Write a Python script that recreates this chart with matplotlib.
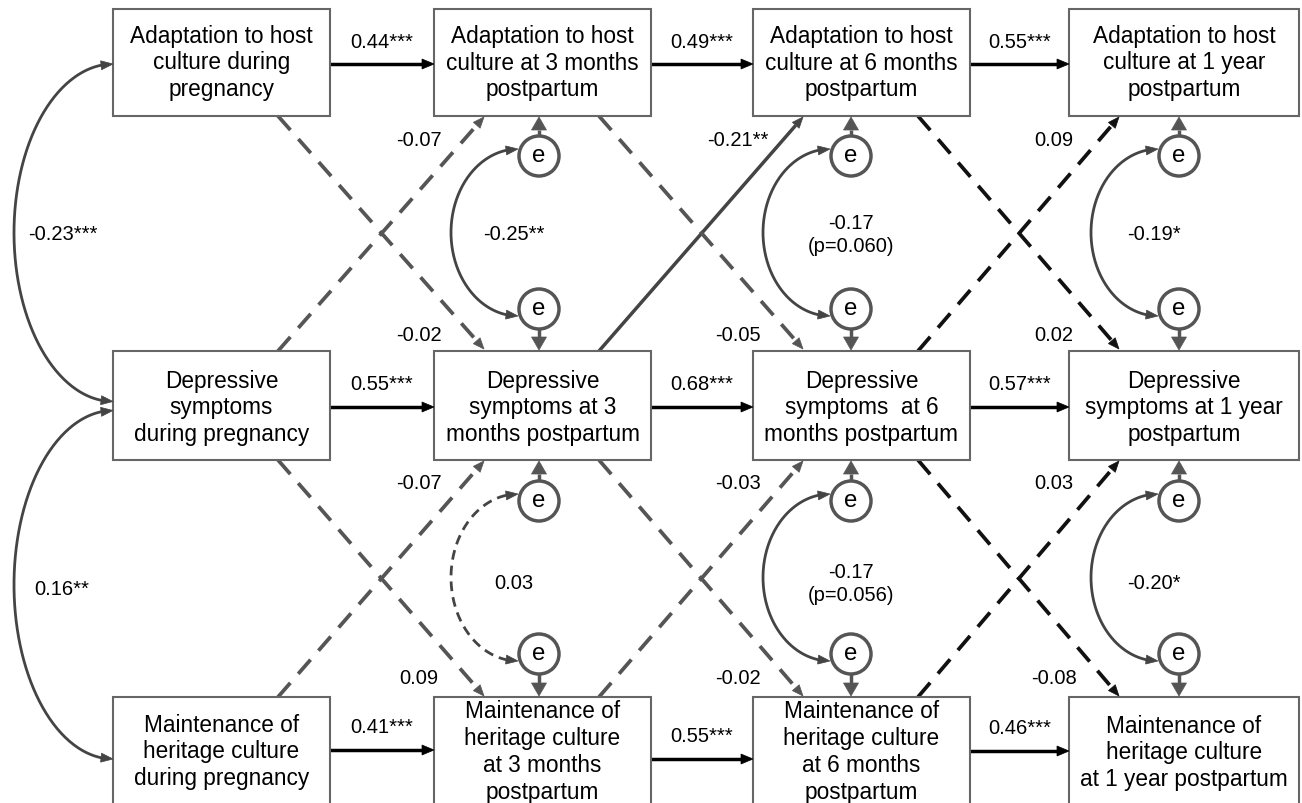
import matplotlib.pyplot as plt
from matplotlib.patches import Rectangle, Circle, Polygon
import numpy as np

plt.rcParams['font.family'] = ['Liberation Sans', 'DejaVu Sans']

# box texts, one list per construct, one entry per wave
host_text = ["Adaptation to host\nculture during\npregnancy",
             "Adaptation to host\nculture at 3 months\npostpartum",
             "Adaptation to host\nculture at 6 months\npostpartum",
             "Adaptation to host\nculture at 1 year\npostpartum"]
dep_text = ["Depressive\nsymptoms\nduring pregnancy",
            "Depressive\nsymptoms at 3\nmonths postpartum",
            "Depressive\nsymptoms  at 6\nmonths postpartum",
            "Depressive\nsymptoms at 1 year\npostpartum"]
her_text = ["Maintenance of\nheritage culture\nduring pregnancy",
            "Maintenance of\nheritage culture\nat 3 months\npostpartum",
            "Maintenance of\nheritage culture\nat 6 months\npostpartum",
            "Maintenance of\nheritage culture\nat 1 year postpartum"]

# autoregressive paths (wave t -> t+1)
host_auto = ["0.44***", "0.49***", "0.55***"]
dep_auto = ["0.55***", "0.68***", "0.57***"]
her_auto = ["0.41***", "0.55***", "0.46***"]

# cross-lagged paths (wave t -> t+1)
dep_to_host = ["-0.07", "-0.21**", "0.09"]
host_to_dep = ["-0.02", "-0.05", "0.02"]
her_to_dep = ["-0.07", "-0.03", "0.03"]
dep_to_her = ["0.09", "-0.02", "-0.08"]

# residual covariances, waves 2-4
cov_host_dep = ["-0.25**", "-0.17\n(p=0.060)", "-0.19*"]
cov_dep_her = ["0.03", "-0.17\n(p=0.056)", "-0.20*"]

# baseline correlations
base_host_dep = "-0.23***"
base_dep_her = "0.16**"

# ---- layout (pixel units, y downwards) ----
box_x = [113, 434, 753, 1069]
box_w = [217, 217, 217, 230]
row_y = [10, 352, 698]
row_h = [107, 109, 125]
text_y = [[63] * 4, [408] * 4, [752, 752, 752, 753]]
arrow_y = [[65] * 3, [408] * 3, [751, 760, 752]]
e_x = [539, 851, 1179]
e_y = [157, 310, 502, 655]
e_r = 20
diag_col = ['#555555', '#555555', '#111111']

FS_BOX = 16.3
FS_LAB = 14.5


def head(ax, tip, d, color, L, W):
    d = np.asarray(d, float)
    d = d / np.hypot(*d)
    n = np.array([-d[1], d[0]])
    tip = np.asarray(tip, float)
    base = tip - d * L
    ax.add_patch(Polygon([tip, base + n * W / 2, base - n * W / 2],
                         closed=True, fc=color, ec=color, lw=0.5, zorder=4))
    return base


def arrow(ax, p0, p1, color, lw, ls='-', L=11, W=9):
    d = np.array(p1, float) - np.array(p0, float)
    base = head(ax, p1, d, color, L, W)
    ax.plot([p0[0], base[0]], [p0[1], base[1]], color=color, lw=lw, ls=ls,
            solid_capstyle='butt', zorder=2)


def arc(ax, cx, y0, y1, a, color, lw, ls='-', L=12, W=9):
    t = np.linspace(0, np.pi, 200)
    cy = (y0 + y1) / 2
    b = (y1 - y0) / 2
    x = cx - a * np.sin(t)
    y = cy - b * np.cos(t)
    pts = np.column_stack([x, y])
    d0 = np.hypot(x - x[0], y - y[0])
    d1 = np.hypot(x - x[-1], y - y[-1])
    keep = (d0 > L * 0.9) & (d1 > L * 0.9)
    ax.plot(x[keep], y[keep], color=color, lw=lw, ls=ls, zorder=2)
    i0 = np.argmax(d0 > L)
    i1 = len(x) - 1 - np.argmax(d1[::-1] > L)
    head(ax, pts[0], pts[0] - pts[i0], color, L, W)
    head(ax, pts[-1], pts[-1] - pts[i1], color, L, W)


fig = plt.figure(figsize=(13.02, 8.04), dpi=100)
ax = fig.add_axes([0, 0, 1, 1])
ax.set_xlim(0, 1302)
ax.set_ylim(804, 0)
ax.axis('off')

# boxes
for r, texts in enumerate([host_text, dep_text, her_text]):
    for c, s in enumerate(texts):
        ax.add_patch(Rectangle((box_x[c], row_y[r]), box_w[c], row_h[r],
                               fc='white', ec='#666666', lw=1.5, zorder=3))
        ax.text(box_x[c] + box_w[c] / 2, text_y[r][c], s, ha='center',
                va='center', fontsize=FS_BOX, linespacing=1.21, zorder=5)

# autoregressive arrows
for r, labs in enumerate([host_auto, dep_auto, her_auto]):
    for c, lab in enumerate(labs):
        x0 = box_x[c] + box_w[c]
        x1 = box_x[c + 1]
        y = arrow_y[r][c]
        arrow(ax, (x0, y), (x1, y), 'black', 2.5, L=12, W=10)
        ax.text((x0 + x1) / 2, y - 23, lab, ha='center', va='center',
                fontsize=FS_LAB)

# cross-lagged arrows
top_b = row_y[0] + row_h[0]
mid_t = row_y[1]
mid_b = row_y[1] + row_h[1]
bot_t = row_y[2]
for c in range(3):
    xs = box_x[c] + 165
    xe = box_x[c + 1] + 50
    lx = box_x[c + 1] - 15
    col = diag_col[c]
    paths = [((xs, mid_t), (xe, top_b + 1), dep_to_host[c], 140),
             ((xs, top_b), (xe, mid_t - 2), host_to_dep[c], 336),
             ((xs, bot_t), (xe, mid_b + 1), her_to_dep[c], 484),
             ((xs, mid_b), (xe, bot_t - 1), dep_to_her[c], 679)]
    for p0, p1, lab, ly in paths:
        sig = '*' in lab
        if sig:
            arrow(ax, p0, p1, '#444444', 2.5, '-')
        else:
            arrow(ax, p0, p1, col, 2.7, (0, (5, 3.2)))
        ax.text(lx, ly, lab, ha='center', va='center', fontsize=FS_LAB)

# residuals
for c in range(3):
    for k, ey in enumerate(e_y):
        ax.add_patch(Circle((e_x[c], ey), e_r, fc='white', ec='#555555',
                            lw=2.5, zorder=3))
        ax.text(e_x[c], ey - 1, 'e', ha='center', va='center',
                fontsize=FS_BOX + 1, zorder=5)
    # e -> box
    arrow(ax, (e_x[c], e_y[0] - e_r), (e_x[c], top_b + 1), '#555555', 2.5,
          L=13, W=15)
    arrow(ax, (e_x[c], e_y[1] + e_r), (e_x[c], mid_t - 1), '#555555', 2.5,
          L=13, W=15)
    arrow(ax, (e_x[c], e_y[2] - e_r), (e_x[c], mid_b + 1), '#555555', 2.5,
          L=13, W=15)
    arrow(ax, (e_x[c], e_y[3] + e_r), (e_x[c], bot_t - 1), '#555555', 2.5,
          L=13, W=15)

# residual covariances
for c in range(3):
    for lab, ya, yb, ly in [(cov_host_dep[c], e_y[0], e_y[1], 235),
                            (cov_dep_her[c], e_y[2], e_y[3], 584)]:
        solid = ('*' in lab) or ('p=' in lab)
        arc(ax, e_x[c] - 21, ya - 7, yb + 7, 67, '#444444', 2,
            '-' if solid else (0, (3.5, 2.2)))
        lx = e_x[c] if '\n' in lab else e_x[c] - 25
        ax.text(lx, ly, lab, ha='center', va='center', fontsize=FS_LAB,
                linespacing=1.25)

# baseline correlations
mid_c = row_y[1] + row_h[1] / 2
arc(ax, box_x[0], 65, mid_c - 4, 99, '#444444', 2)
arc(ax, box_x[0], mid_c + 5, 760, 99, '#444444', 2)
ax.text(28, 235, base_host_dep, ha='left', va='center', fontsize=FS_LAB)
ax.text(34, 590, base_dep_her, ha='left', va='center', fontsize=FS_LAB)

fig.savefig('out.png', dpi=100)
